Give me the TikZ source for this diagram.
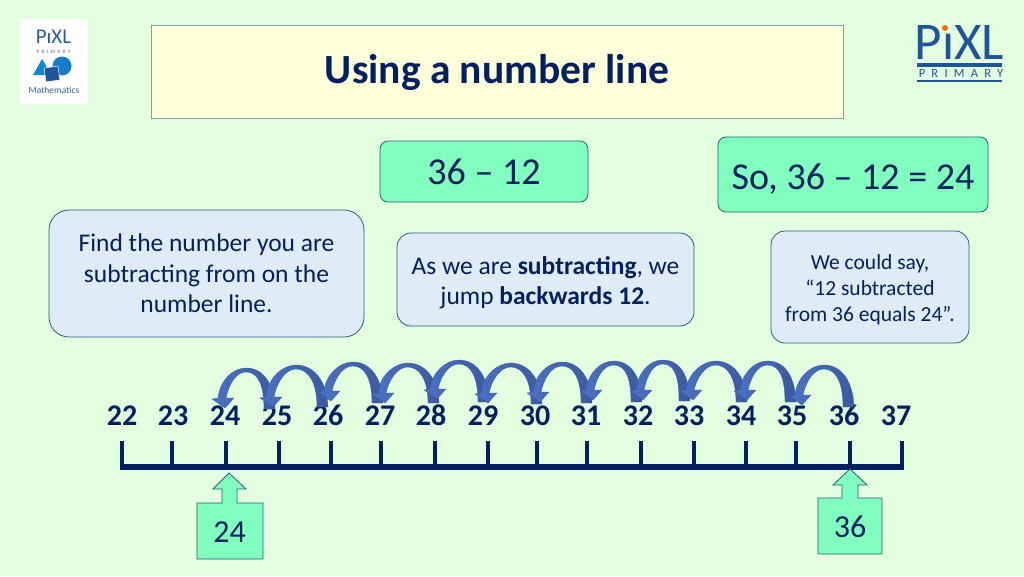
\documentclass[tikz,border=0pt]{standalone}
\usepackage{fontspec}
\setmainfont{Carlito}
\newfontfamily\spacedfont[LetterSpace=50]{Carlito}
\usetikzlibrary{calc}
\definecolor{bgcol}{HTML}{E4FFE0}
\definecolor{navy}{HTML}{002060}
\definecolor{titlecol}{HTML}{FFFFD9}
\definecolor{titleedge}{HTML}{7F9DB9}
\definecolor{mintcol}{HTML}{80FFBE}
\definecolor{edgecol}{HTML}{1F6080}
\definecolor{infocol}{HTML}{DFEBF7}
\definecolor{logoblue}{HTML}{1F5597}
\definecolor{jumpdark}{HTML}{3A5A9F}
\definecolor{jumplight}{HTML}{4A72C6}
\newcommand{\fs}[1]{\fontsize{#1pt}{1.2\dimexpr#1pt\relax}\selectfont}
\tikzset{
	titlebox/.style={draw=titleedge,fill=titlecol,line width=0.8pt,minimum width=692pt,minimum height=93pt,text=navy,font=\fs{41.5}\bfseries},
	sumbox/.style={draw=edgecol,fill=mintcol,line width=0.8pt,rounded corners=8pt,text=navy,inner sep=0pt},
	infobox/.style={draw=edgecol,fill=infocol,line width=0.8pt,text=navy,align=center,inner sep=0pt},
	numlabel/.style={text=navy,font=\fs{30}\bfseries,inner sep=0pt,anchor=base},
	jumparrow/.style={left color=jumplight,right color=jumpdark,draw=jumpdark,line width=0.3pt},
	pointer/.style={draw=edgecol,fill=mintcol,line width=0.8pt},
}
% one curved jump: tip x, tip y, right edge of the tail, top, bottom of the tail
\newcommand{\jump}[5]{
	\pgfmathsetmacro{\midx}{#1+0.42*(#3-#1)}
	\draw[jumparrow] (#3,#5) .. controls (#3-1,#4+15) and (\midx+17,#4) .. (\midx,#4)
		.. controls (\midx-13,#4) and (#1-5,#4+12) .. (#1-7,#2-10)
		-- (#1-13,#2-9) -- (#1,#2) -- (#1+9,#2-10) -- (#1+1,#2-10)
		.. controls (#1+4,#4+16) and (\midx-10,#4+4) .. (\midx,#4+4)
		.. controls (\midx+12,#4+4) and (#3-11,#4+17) .. (#3-11,#5) -- cycle;
}
\begin{document}
\begin{tikzpicture}[x=1pt,y=-1pt]
	\useasboundingbox (0,0) rectangle (1024,576);
	\fill[bgcol] (0,0) rectangle (1024,576);
	% logos
	\fill[white] (20,19) rectangle (88,104);
	\node[text=logoblue!80!gray,font=\fs{21},inner sep=0pt] (smallpixl) at (53.5,37) {P\char"0131 XL};
	\fill[orange] (53.3,30) circle (1pt);
	\node[text=logoblue!70!gray,font=\spacedfont\fs{5},inner sep=0pt] (smallprimary) at (53.5,51.5) {PRIMARY};
	\fill[cyan!70!blue] (42,59) -- (33,75) -- (52,75) -- cycle;
	\fill[cyan!60!blue] (62,66) circle (9.5pt);
	\filldraw[logoblue,draw=white,line width=0.5pt,rotate around={8:(52,74)}] (45,67) rectangle (59,81);
	\node[text=logoblue!70!gray,font=\fs{9.5},inner sep=0pt] (smallmaths) at (54,90) {Mathematics};
	\node[text=logoblue,font=\fs{53},inner sep=0pt] (pixl) at (959.5,42) {P\char"0131 XL};
	\fill[orange!85!red] (945,28) circle (3pt);
	\fill[logoblue] (917,63) rectangle (1002,66.5);
	\fill[logoblue] (917,80) rectangle (1002,82);
	\node[text=logoblue,font=\spacedfont\fs{12.5},inner sep=0pt] (primary) at (961,73.5) {PRIMARY};
	% boxes
	\node[titlebox] (title) at (497,71.5) {\rule{0pt}{32pt}Using a number line};
	\node[sumbox,minimum width=208pt,minimum height=61pt,font=\fs{38}] (sumq) at (484,171.5) {36 -- 12};
	\node[sumbox,minimum width=270pt,minimum height=75pt,font=\fs{38}] (suma) at (853,174.5) {\rule{0pt}{35pt}So, 36 -- 12 = 24};
	\node[infobox,rounded corners=20pt,minimum width=315pt,minimum height=127pt,font=\fs{25.5}] (findbox) at (206.5,273.5)
		{Find the number you are\\subtracting from on the\\number line.};
	\node[infobox,rounded corners=14pt,minimum width=297pt,minimum height=93pt,font=\fs{25.5}] (jumpbox) at (545.5,279.5)
		{\rule{0pt}{24pt}As we are \textbf{subtracting}, we\\jump \textbf{backwards 12}.};
	\node[infobox,rounded corners=14pt,minimum width=198pt,minimum height=112pt,font=\fs{21.5}] (saybox) at (870,287)
		{\rule{0pt}{20pt}We could say,\\``12 subtracted\\from 36 equals 24''.};
	% number line
	\foreach \n/\tx/\lx in {22/122/122,23/172/173,24/225.5/225,25/279/277,26/331/328,27/381/380,28/434.5/431,29/488/483,
		30/537/535,31/587/586,32/641/638,33/694/689,34/746/741,35/796/792,36/850/844,37/902/896}{
		\node[numlabel] (num\n) at (\lx,425) {\n};
		\coordinate (tick\n) at (\tx,467);
		\draw[navy,line width=4pt] (tick\n) -- (\tx,441);
	}
	\draw[navy,line width=6pt] (tick22) ++(-2,0) -- ($(tick37)+(2,0)$);
	% jumps
	\foreach \tipx/\tipy/\tail/\top/\bot in {225/408/275/368/409,273/407/328/365/407,331/401/383/362/403,385/403/439/363/403,
		437/399/489/360/402,488/403/542/363/404,540/402/592/362/403,593/400/642/361/402,643/400/690/360/401,
		693/400/747/361/402,747/400/796/361/402,802/405/854/365/407}{
		\jump{\tipx}{\tipy}{\tail}{\top}{\bot}
	}
	% pointers
	\draw[pointer] (229,473) -- (246,489) -- (237,489) -- (237,503) -- (263,503) -- (263,559) -- (197,559) -- (197,503)
		-- (222,503) -- (222,489) -- (213,489) -- cycle;
	\node[text=navy,font=\fs{32},inner sep=0pt] (mark24) at (229.5,532) {24};
	\draw[pointer] (850,469) -- (867,485) -- (858,485) -- (858,498) -- (882,498) -- (882,554) -- (818,554) -- (818,498)
		-- (842,498) -- (842,485) -- (833,485) -- cycle;
	\node[text=navy,font=\fs{32},inner sep=0pt] (mark36) at (850,527) {36};
\end{tikzpicture}
\end{document}
